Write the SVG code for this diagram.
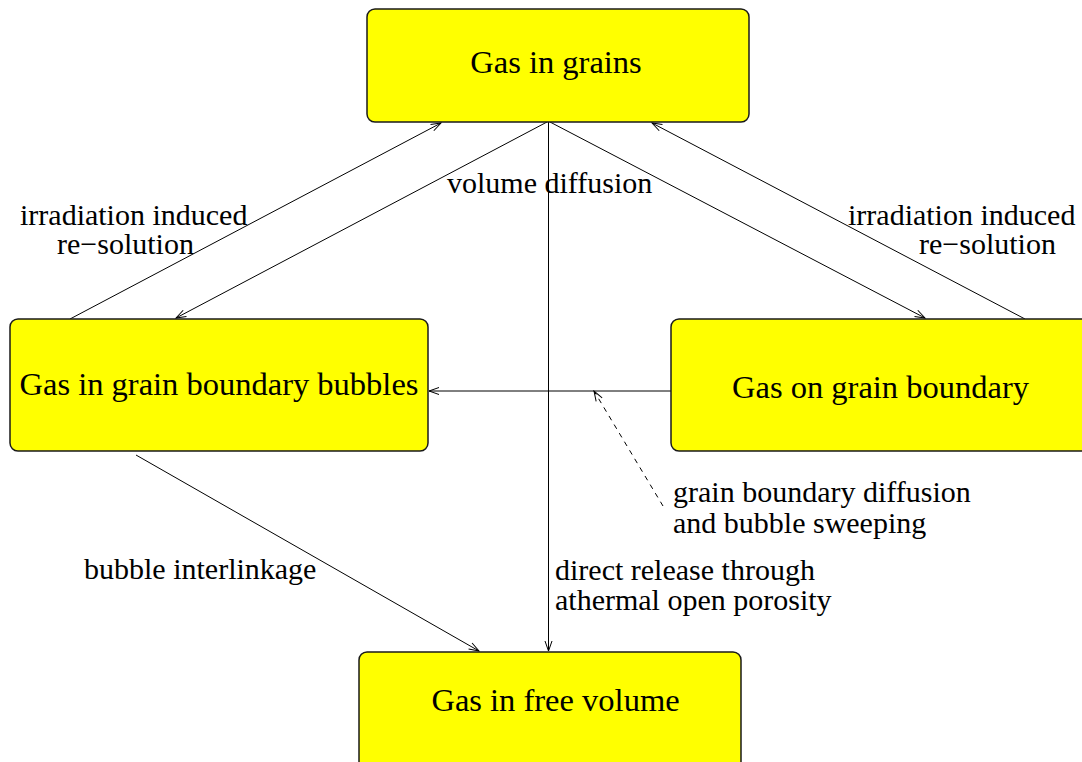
<svg xmlns="http://www.w3.org/2000/svg" width="1082" height="762" viewBox="0 0 1082 762">
  <style>
    .box { fill: #ffff00; stroke: #1a1a1a; stroke-width: 1.5; }
    .box-label { font-family: 'Liberation Serif', serif; font-size: 32.5px; fill: #000; text-anchor: middle; }
    .label { font-family: 'Liberation Serif', serif; font-size: 30px; fill: #000; }
    .edge { fill: none; stroke: #000; stroke-width: 1; marker-end: url(#arrow); }
    .dashed { stroke-dasharray: 5 5; }
  </style>
  <defs>
    <marker id="arrow" markerUnits="userSpaceOnUse" viewBox="-11 -5 12 10" refX="0" refY="0" markerWidth="12" markerHeight="10" orient="auto">
      <path d="M-10,-3.5 L0,0 L-10,3.5" fill="none" stroke="#000" stroke-width="1"/>
    </marker>
  </defs>

  <g id="connectors">
    <line class="edge" x1="70" y1="319" x2="441" y2="123"/>
    <line class="edge" x1="547" y1="122" x2="176" y2="318"/>
    <line class="edge" x1="550" y1="122" x2="925" y2="318"/>
    <line class="edge" x1="1025" y1="319" x2="652" y2="123"/>
    <line class="edge" x1="548.5" y1="122" x2="548.5" y2="651"/>
    <line class="edge" x1="671" y1="391" x2="429" y2="391"/>
    <line class="edge dashed" x1="663" y1="506" x2="594" y2="391"/>
    <line class="edge" x1="136" y1="455" x2="479" y2="651"/>
  </g>

  <g id="node-grains">
    <rect class="box" x="367" y="9" width="382" height="113" rx="8"/>
    <text class="box-label" x="556" y="73">Gas in grains</text>
  </g>

  <g id="node-bubbles">
    <rect class="box" x="10" y="319" width="418" height="132" rx="8"/>
    <text class="box-label" x="219" y="395">Gas in grain boundary bubbles</text>
  </g>

  <g id="node-boundary">
    <rect class="box" x="671" y="319" width="420" height="132" rx="8"/>
    <text class="box-label" x="880.5" y="398">Gas on grain boundary</text>
  </g>

  <g id="node-free-volume">
    <rect class="box" x="359" y="652" width="382" height="120" rx="8"/>
    <text class="box-label" x="555.5" y="711">Gas in free volume</text>
  </g>

  <g id="edge-labels">
    <text class="label" x="447" y="193">volume diffusion</text>
    <text class="label" x="20" y="225">irradiation induced</text>
    <text class="label" x="57" y="254">re−solution</text>
    <text class="label" x="848" y="225">irradiation induced</text>
    <text class="label" x="919" y="254">re−solution</text>
    <text class="label" x="673" y="502">grain boundary diffusion</text>
    <text class="label" x="673" y="533">and bubble sweeping</text>
    <text class="label" x="84" y="579">bubble interlinkage</text>
    <text class="label" x="555" y="580">direct release through</text>
    <text class="label" x="555" y="610">athermal open porosity</text>
  </g>
</svg>
